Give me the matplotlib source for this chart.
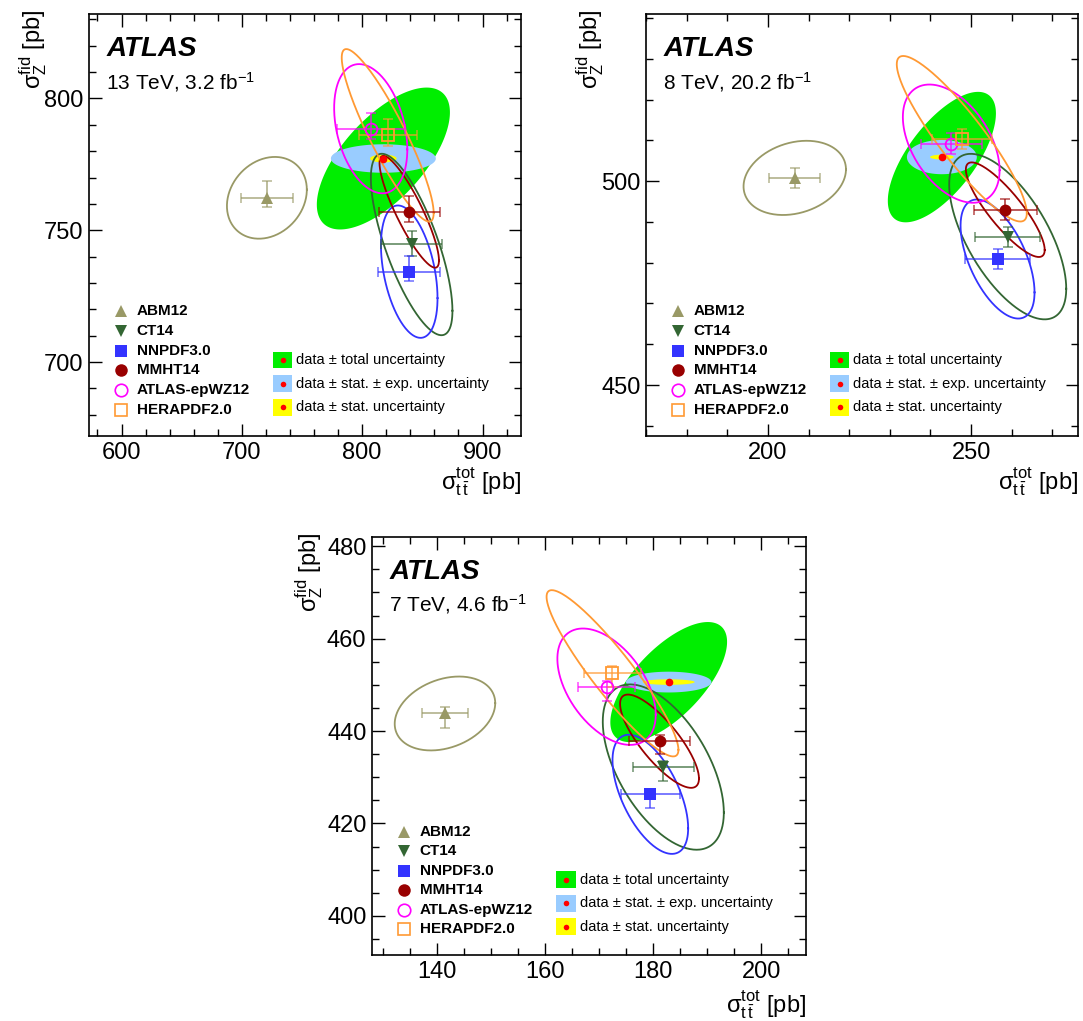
import numpy as np
import matplotlib
matplotlib.use('Agg')
import matplotlib.pyplot as plt
from matplotlib.patches import Rectangle
from matplotlib.ticker import MultipleLocator

plt.rcParams['font.family'] = ['Liberation Sans', 'DejaVu Sans']
plt.rcParams['mathtext.fontset'] = 'custom'
plt.rcParams['mathtext.rm'] = 'Liberation Sans'
plt.rcParams['mathtext.it'] = 'Liberation Sans:italic'
plt.rcParams['mathtext.bf'] = 'Liberation Sans:bold'

# PDF sets shown in every panel
pdf_names = ['ABM12', 'CT14', 'NNPDF3.0', 'MMHT14', 'ATLAS-epWZ12', 'HERAPDF2.0']
pdf_markers = ['^', 'v', 's', 'o', 'o', 's']
pdf_colors = ['#999966', '#336633', '#3333ff', '#990000', '#ff00ff', '#ff9933']
pdf_open = [False, False, False, False, True, True]

# ---- 13 TeV, 3.2 fb-1 ----
tt13 = [720.8, 841.1, 839.1, 839.1, 807.1, 821.2]
z13 = [762.3, 744.6, 734.3, 757.0, 788.5, 786.0]
tt13_err = [21.5, 25.3, 25.6, 25.2, 28.3, 24.2]
z13_up = [6.3, 5.3, 5.9, 6.0, 6.1, 6.3]
z13_dn = [3.5, 4.4, 3.6, 3.8, 4.0, 4.0]
ell13_hx = [33.2, 33.9, 23.5, 24.7, 30.4, 38.2]
ell13_hy = [15.5, 34.4, 25.1, 21.2, 24.5, 32.7]
ell13_rho = [0.2, -0.73, -0.4, -0.87, -0.32, -0.9]
data13 = (817.6, 777.2)
unc13_hx = [55.3, 43.6, 11.0]   # total, stat+exp, stat
unc13_hy = [26.9, 5.4, 1.5]
unc13_rho = [0.65, 0.0, 0.0]

# ---- 8 TeV, 20.2 fb-1 ----
tt8 = [206.6, 259.0, 256.5, 258.4, 245.1, 247.7]
z8 = [500.8, 486.4, 480.9, 493.0, 509.2, 510.4]
tt8_err = [6.3, 8.0, 7.9, 7.8, 7.5, 7.4]
z8_up = [2.5, 2.4, 2.4, 2.5, 2.5, 2.4]
z8_dn = [2.5, 2.5, 2.4, 2.5, 2.5, 2.6]
ell8_hx = [12.6, 14.4, 9.1, 9.7, 11.9, 16.0]
ell8_hy = [9.1, 20.3, 14.6, 11.6, 14.5, 20.3]
ell8_rho = [0.23, -0.63, -0.56, -0.85, -0.45, -0.9]
data8 = (242.8, 505.9)
unc8_hx = [13.3, 8.6, 2.9]
unc8_hy = [16.0, 4.2, 0.6]
unc8_rho = [0.67, 0.0, 0.0]

# ---- 7 TeV, 4.6 fb-1 ----
tt7 = [141.5, 181.9, 179.5, 181.2, 171.4, 172.5]
z7 = [443.8, 432.2, 426.3, 437.8, 449.6, 452.5]
tt7_err = [4.3, 5.6, 5.5, 5.6, 5.3, 5.2]
z7_up = [1.5, 1.3, 1.2, 1.3, 1.2, 1.5]
z7_dn = [3.1, 3.0, 3.0, 2.7, 3.2, 3.0]
ell7_hx = [9.3, 11.2, 7.0, 7.3, 9.1, 12.2]
ell7_hy = [8.0, 17.9, 12.9, 10.1, 12.6, 18.0]
ell7_rho = [0.28, -0.55, -0.57, -0.8, -0.48, -0.92]
data7 = (182.9, 450.6)
unc7_hx = [10.8, 7.9, 4.8]
unc7_hy = [13.0, 2.25, 0.6]
unc7_rho = [0.67, 0.0, 0.0]

unc_colors = ['#00ee00', '#99ccff', '#ffff00']
unc_labels = ['data \u00b1 total uncertainty',
              'data \u00b1 stat. \u00b1 exp. uncertainty',
              'data \u00b1 stat. uncertainty']

xlabel = r'$\mathrm{\sigma^{tot}_{t\,\bar{t}}}$ [pb]'
ylabel = r'$\mathrm{\sigma^{fid}_{Z}}$ [pb]'


def ellipse(cx, cy, hx, hy, rho, n=300):
    t = np.linspace(0, 2 * np.pi, n)
    x = cx + hx * np.cos(t)
    y = cy + hy * (rho * np.cos(t) + np.sqrt(1 - rho ** 2) * np.sin(t))
    return x, y


def draw_panel(ax, tt, z, tt_err, z_up, z_dn, ehx, ehy, erho, data, uhx, uhy, urho,
               label, xlim, ylim, xstep, ystep, xlab_y=-0.07, ylab_x=-0.13):
    # measured value with uncertainty ellipses
    for hx, hy, rho, c in zip(uhx, uhy, urho, unc_colors):
        x, y = ellipse(data[0], data[1], hx, hy, rho)
        ax.fill(x, y, color=c, lw=0, zorder=1)
    ax.plot(data[0], data[1], 'o', color='red', ms=5.5, mec='none', zorder=6)

    # predictions
    for i in range(len(pdf_names)):
        c = pdf_colors[i]
        x, y = ellipse(tt[i], z[i], ehx[i], ehy[i], erho[i])
        ax.plot(x, y, color=c, lw=1.3, zorder=3)
        ax.errorbar(tt[i], z[i], xerr=tt_err[i], yerr=[[z_dn[i]], [z_up[i]]], fmt='none',
                    ecolor=c, alpha=0.65, elinewidth=1.4, capsize=3.5, capthick=1.2, zorder=4)
        ax.plot(tt[i], z[i], pdf_markers[i], color=c, ms=9 if pdf_markers[i] != 'o' else 8.5,
                mfc='none' if pdf_open[i] else c, mew=1.3 if pdf_open[i] else 0, zorder=5)

    ax.set_xlim(*xlim)
    ax.set_ylim(*ylim)
    ax.xaxis.set_major_locator(MultipleLocator(xstep[0]))
    ax.xaxis.set_minor_locator(MultipleLocator(xstep[1]))
    ax.yaxis.set_major_locator(MultipleLocator(ystep[0]))
    ax.yaxis.set_minor_locator(MultipleLocator(ystep[1]))
    ax.tick_params(which='both', direction='in', top=True, right=True, labelsize=17, width=1)
    ax.tick_params(which='major', length=9, pad=4)
    ax.tick_params(which='minor', length=5)
    for s in ax.spines.values():
        s.set_linewidth(1.2)

    ax.text(0.04, 0.9, 'ATLAS', transform=ax.transAxes, fontsize=20, fontweight='bold',
            fontstyle='italic', va='baseline')
    ax.text(0.04, 0.822, label, transform=ax.transAxes, fontsize=15, va='baseline')

    ax.text(1.0, xlab_y, xlabel, transform=ax.transAxes, fontsize=17, ha='right', va='top')
    ax.text(ylab_x, 1.01, ylabel, transform=ax.transAxes, fontsize=17, ha='center', va='top',
            rotation=90)

    # legend of predictions
    for i, name in enumerate(pdf_names):
        yy = 0.295 - i * 0.0466
        ax.plot(0.073, yy, pdf_markers[i], transform=ax.transAxes, color=pdf_colors[i],
                ms=9 if pdf_markers[i] != 's' else 8.5,
                mfc='none' if pdf_open[i] else pdf_colors[i], mew=1.2 if pdf_open[i] else 0,
                clip_on=False, zorder=7)
        ax.text(0.11, yy, name, transform=ax.transAxes, fontsize=11, fontweight='bold',
                va='center')
    # legend of data uncertainties
    for i, lab in enumerate(unc_labels):
        yy = 0.18 - i * 0.056
        ax.add_patch(Rectangle((0.448 - 0.023, yy - 0.02), 0.046, 0.04, transform=ax.transAxes,
                               color=unc_colors[i], lw=0, zorder=7))
        ax.plot(0.448, yy, 'o', transform=ax.transAxes, color='red', ms=4, mec='none', zorder=8)
        ax.text(0.48, yy, lab, transform=ax.transAxes, fontsize=10.5, va='center')


fig = plt.figure(figsize=(10.83, 10.21), dpi=100)
ax1 = fig.add_axes([0.0822, 0.573, 0.3989, 0.4133])
ax2 = fig.add_axes([0.5965, 0.573, 0.3989, 0.4133])
ax3 = fig.add_axes([0.3435, 0.0646, 0.4007, 0.4094])

draw_panel(ax1, tt13, z13, tt13_err, z13_up, z13_dn, ell13_hx, ell13_hy, ell13_rho,
           data13, unc13_hx, unc13_hy, unc13_rho, r'13 TeV, 3.2 fb$^{\mathrm{-1}}$',
           (573, 932), (672, 832), (100, 20), (50, 10))
draw_panel(ax2, tt8, z8, tt8_err, z8_up, z8_dn, ell8_hx, ell8_hy, ell8_rho,
           data8, unc8_hx, unc8_hy, unc8_rho, r'8 TeV, 20.2 fb$^{\mathrm{-1}}$',
           (170, 276.3), (437.5, 541), (50, 10), (50, 10))
draw_panel(ax3, tt7, z7, tt7_err, z7_up, z7_dn, ell7_hx, ell7_hy, ell7_rho,
           data7, unc7_hx, unc7_hy, unc7_rho, r'7 TeV, 4.6 fb$^{\mathrm{-1}}$',
           (128, 208.3), (391.5, 482), (20, 5), (20, 5), xlab_y=-0.08, ylab_x=-0.145)

fig.savefig('out.png', dpi=100)
